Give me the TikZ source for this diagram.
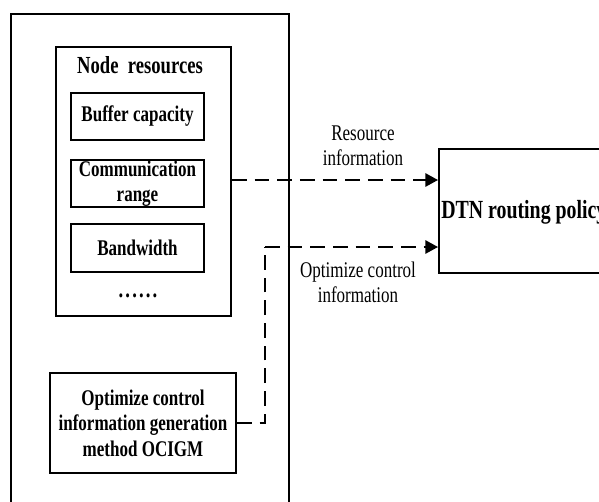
\documentclass[tikz,border=0pt]{standalone}
\usepackage{fontspec}
\setmainfont{Liberation Serif}[FakeStretch=0.76]
\usetikzlibrary{arrows.meta}
\newcommand\spaceddots{.\kern1.6pt.\kern1.6pt.\kern1.6pt.\kern1.6pt.\kern1.6pt.}
\begin{document}
\begin{tikzpicture}[x=0.75pt,y=-0.75pt,
  frame/.style={draw, line width=1.4pt, inner sep=0pt},
  box/.style={frame, align=center,
    font=\fontsize{16.8}{19.2}\selectfont\bfseries},
  boldtxt/.style={inner sep=0pt, align=center,
    font=\fontsize{18.4}{19.5}\selectfont\bfseries},
  lbl/.style={inner sep=0pt, align=center,
    font=\fontsize{16.8}{18.75}\selectfont},
  conn/.style={line width=1.4pt, dash pattern=on 11pt off 6pt,
    -{Triangle[length=9.5pt,width=10pt]}},
  link/.style={line width=1.4pt, dash pattern=on 11pt off 6pt}]
\useasboundingbox (0,0) rectangle (599,501);

% outer frame (runs past the bottom edge)
\node[frame, minimum width=278*0.75pt, minimum height=520*0.75pt,
      anchor=north west] (outer) at (10,13) {};

% node resources group
\node[frame, minimum width=175*0.75pt, minimum height=269*0.75pt,
      anchor=north west] (nr) at (55,46) {};
\node[boldtxt] (nrtitle) at (140,65) {Node\ \ resources};
\node[box, minimum width=133*0.75pt, minimum height=47*0.75pt]
  (buf) at (137.5,116.5) {Buffer capacity};
\node[box, minimum width=133*0.75pt, minimum height=47*0.75pt]
  (comm) at (137.5,183.5) {Communication\\range};
\node[box, minimum width=133*0.75pt, minimum height=48*0.75pt]
  (bw) at (137.5,248) {Bandwidth};
\node[boldtxt] (dots) at (138,296) {\spaceddots};

% generation method
\node[box, minimum width=186*0.75pt, minimum height=100*0.75pt]
  (ocigm) at (143,423) {Optimize control\\information generation\\method OCIGM};

% routing policy (runs past the right edge)
\node[frame, minimum width=200*0.75pt, minimum height=124*0.75pt,
      anchor=north west] (dtn) at (438,148) {};
\node[boldtxt, anchor=west, font=\fontsize{19.6}{20}\selectfont\bfseries]
  (dtntxt) at (441,212) {DTN routing policy};

% connectors
\coordinate (resy) at (0,180);
\coordinate (opty) at (0,247);
\coordinate (bend) at (265,247);
\draw[conn] (nr.east |- resy) -- (dtn.west |- resy);
\draw[link] (ocigm.east) -| (bend);
\draw[conn] (bend) -- (dtn.west |- opty);

% connector labels
\node[lbl] (reslbl) at (363,145.5) {Resource\\information};
\node[lbl] (optlbl) at (358,282.5) {Optimize control\\information};
\end{tikzpicture}
\end{document}
